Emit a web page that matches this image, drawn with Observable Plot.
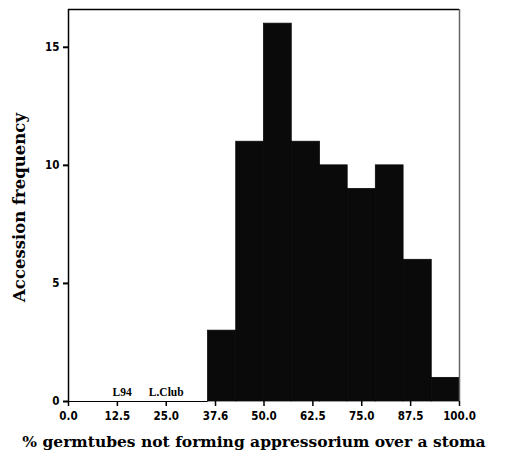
<!DOCTYPE html>
<html><head><meta charset="utf-8">
<script src="https://cdn.jsdelivr.net/npm/d3@7"></script>
<script src="https://cdn.jsdelivr.net/npm/@observablehq/plot@0.6"></script>
<style>
body{margin:0;background:#fff;}
#chart svg{display:block;}
</style>
</head><body><div id="chart"></div>
<script>
const binEdges = [35.7, 42.9, 50.0, 57.1, 64.3, 71.4, 78.6, 85.7, 92.9, 100.0];
const counts = [3, 11, 16, 11, 10, 9, 10, 6, 1];
const xTicks = [0, 12.5, 25, 37.6, 50, 62.5, 75, 87.5, 100];
const yTicks = [0, 5, 10, 15];
const markerNames = ["L94", "L.Club"];
const markerX = [13.7, 25.0];
const xTitle = "% germtubes not forming appressorium over a stoma";
const yTitle = "Accession frequency";

const bars = counts.map((c, i) => ({x1: binEdges[i], x2: binEdges[i + 1], y: c}));
const markers = markerNames.map((n, i) => ({name: n, x: markerX[i]}));

const tickFont = "'Liberation Sans Narrow','DejaVu Sans Condensed','Liberation Sans',sans-serif";
const serif = "'Liberation Serif','DejaVu Serif',serif";
const wideSerif = "'DejaVu Serif','Liberation Serif',serif";

const chart = Plot.plot({
  width: 507,
  height: 461,
  marginTop: 9,
  marginBottom: 60,
  marginLeft: 68,
  marginRight: 48,
  style: {background: "#fff", color: "#000"},
  x: {domain: [0, 100]},
  y: {domain: [0, 16.6]},
  marks: [
    Plot.rectY(bars, {x1: "x1", x2: "x2", y: "y", fill: "#0a0a0a", stroke: "#0a0a0a", strokeWidth: 0.8, inset: 0}),
    Plot.ruleY([0], {x1: 0, x2: binEdges[0], stroke: "#000", strokeWidth: 1.2}),
    Plot.text(markers, {x: "x", y: 0, text: "name", dy: -9, fontSize: 11.5, fontWeight: "bold", fontFamily: serif}),
    Plot.axisX({ticks: xTicks, tickFormat: d => d.toFixed(1), tickSize: 5, tickPadding: 5, fontSize: 11.5, fontWeight: "bold", fontFamily: tickFont, label: null, strokeWidth: 1.5}),
    Plot.axisY({ticks: yTicks, tickFormat: d => String(d), tickSize: 5, tickPadding: 4, fontSize: 11.5, fontWeight: "bold", fontFamily: tickFont, label: null, strokeWidth: 2}),
    Plot.ruleX([0], {stroke: "#000", strokeWidth: 1.5}),
    Plot.ruleY([16.6], {stroke: "#000", strokeWidth: 1.5}),
    Plot.ruleX([100], {stroke: "#666", strokeWidth: 1.5}),
    Plot.text([xTitle], {frameAnchor: "bottom", dx: -10, dy: 45, text: d => d, fontSize: 15.5, fontWeight: "bold", fontFamily: wideSerif}),
    Plot.text([yTitle], {frameAnchor: "left", textAnchor: "middle", dx: -49, dy: 2, rotate: -90, text: d => d, fontSize: 16.5, fontWeight: "bold", fontFamily: wideSerif})
  ]
});
document.getElementById("chart").appendChild(chart);
</script>
</body></html>
